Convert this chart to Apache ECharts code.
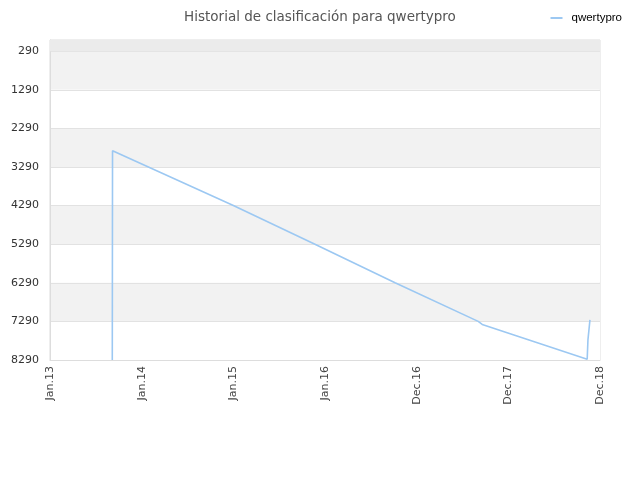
<!DOCTYPE html>
<html>
<head>
  <meta charset="utf-8">
  <title></title>
  <script src="https://cdn.jsdelivr.net/npm/echarts@6/dist/echarts.min.js"></script>
  <style>
    html, body {
      margin: 0;
      padding: 0;
      background: #fff;
    }

    #chart {
      width: 640px;
      height: 480px;
    }
  </style>
</head>
<body>
<div id="chart"></div>
<script>
  // fechas y posiciones
  var fechas = ['2013-09-06', '2013-09-07', '2015-01-01', '2015-11-22', '2016-10-06',
    '2017-09-02', '2017-09-18', '2017-09-21', '2018-11-10', '2018-11-13', '2018-11-21'];
  var posiciones = [8290, 2870, 4290, 5290, 6290, 7290, 7370, 7330, 8270, 7770, 7250];

  var ticksY = [290, 1290, 2290, 3290, 4290, 5290, 6290, 7290, 8290];
  var ticksFechas = ['2013-01-01', '2014-01-01', '2015-01-01', '2016-01-01',
    '2016-12-31', '2017-12-31', '2018-12-31'];
  var ticksTexto = ['Jan.13', 'Jan.14', 'Jan.15', 'Jan.16', 'Dec.16', 'Dec.17', 'Dec.18'];

  function t(s) {
    return new Date(s + 'T00:00:00').getTime();
  }

  var ticksX = ticksFechas.map(t);
  var datos = [];
  for (var i = 0; i < fechas.length; i++) {
    datos.push([t(fechas[i]), posiciones[i]]);
  }

  var chart = echarts.init(document.getElementById('chart'));
  var option = {
    animation: false,
    textStyle: {fontFamily: 'DejaVu Sans'},
    title: {
      text: 'Historial de clasificación para qwertypro',
      left: 'center',
      top: 5,
      textStyle: {fontSize: 13.5, fontWeight: 'normal', color: '#555', fontFamily: 'DejaVu Sans'}
    },
    legend: {
      right: 18,
      top: 12,
      padding: 0,
      icon: 'rect',
      itemWidth: 12,
      itemHeight: 2,
      itemGap: 10,
      textStyle: {fontSize: 11.5, color: '#000', fontFamily: 'Liberation Sans', padding: [0, 0, 0, 4]},
      data: ['qwertypro']
    },
    grid: {
      left: 50,
      right: 40,
      top: 40,
      bottom: 120,
      show: true,
      borderColor: '#ddd',
      borderWidth: 1
    },
    xAxis: {
      type: 'value',
      min: t('2013-01-01'),
      max: t('2018-12-31'),
      axisLine: {lineStyle: {color: '#ddd'}},
      axisTick: {show: false, customValues: ticksX},
      splitLine: {show: false},
      axisLabel: {
        customValues: ticksX,
        rotate: 90,
        fontSize: 11,
        color: '#444',
        margin: 6,
        formatter: function (v) {
          var k = ticksX.indexOf(v);
          return k >= 0 ? ticksTexto[k] : '';
        }
      }
    },
    yAxis: {
      type: 'value',
      inverse: true,
      min: 1,
      max: 8290,
      axisLine: {show: true, lineStyle: {color: '#ddd'}},
      axisTick: {show: false, customValues: ticksY},
      axisLabel: {
        customValues: ticksY, fontSize: 11, color: '#333', margin: 11,
        formatter: function (v) {
          return String(v);
        }
      },
      splitLine: {show: true, lineStyle: {color: '#e2e2e2'}},
      splitArea: {show: true, areaStyle: {color: ['#f2f2f2', '#ffffff']}}
    },
    series: [
      {
        name: 'qwertypro',
        type: 'line',
        data: datos,
        showSymbol: false,
        itemStyle: {color: '#9cc8f2'},
        lineStyle: {color: '#9cc8f2', width: 1.6},
        markArea: {
          silent: true,
          itemStyle: {color: '#ebebeb'},
          data: [[{yAxis: 1}, {yAxis: 290}]]
        }
      }
    ]
  };
  chart.setOption(option);
</script>
</body>
</html>
